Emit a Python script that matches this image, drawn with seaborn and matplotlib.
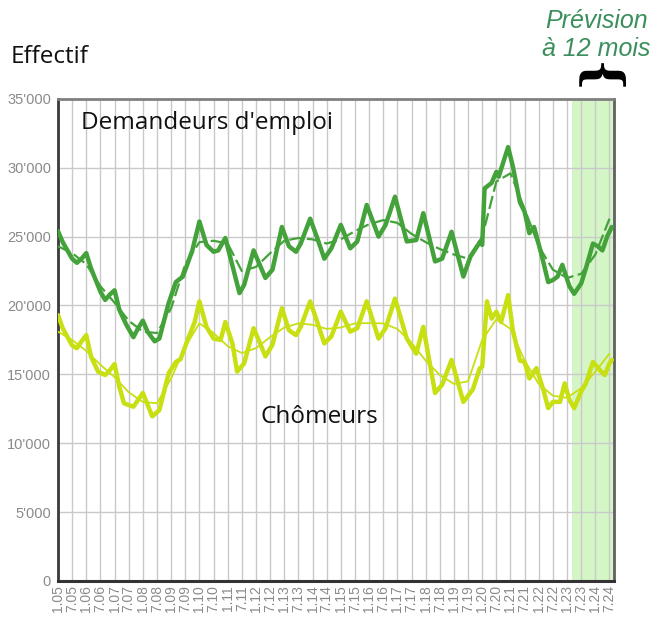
import pandas as pd
import numpy as np
import matplotlib
matplotlib.use("Agg")
import matplotlib.pyplot as plt
import seaborn as sns
from matplotlib.ticker import FuncFormatter

# mois depuis janvier 2005 / effectifs
DE_MOIS = [0, 2, 6, 8, 10, 12, 14, 18, 20, 22, 24, 26, 29, 32, 34, 36, 38, 41, 43, 47,
           50, 53, 57, 60, 63, 66, 68, 71, 74, 77, 79, 83, 86, 88, 91, 95, 98, 101, 103, 107,
           110, 113, 116, 120, 124, 127, 131, 136, 139, 143, 148, 152, 155, 160, 163, 167, 172, 175, 179, 180,
           181, 184, 186, 187, 191, 193, 196, 198, 200, 202, 205, 208, 210, 212, 214, 217, 219, 222, 224, 227,
           229, 231, 233, 235]
DE_VAL = [25400, 24600, 23400, 23100, 23400, 23800, 22700, 21000, 20400, 20800, 21100, 19700, 18600, 17700, 18350, 18900, 18100, 17400, 17600, 20200,
          21700, 22100, 24000, 26100, 24400, 23900, 24000, 24900, 22900, 20900, 21500, 24000, 22800, 22000, 22600, 25700, 24300, 23900, 24500, 26300,
          24900, 23400, 24150, 25850, 24150, 24650, 27300, 25000, 25850, 27900, 24650, 24750, 26700, 23200, 23400, 25350, 22100, 23550, 24600, 24400,
          28500, 28900, 29700, 29350, 31500, 30100, 27500, 26800, 25250, 25700, 23800, 21700, 21850, 22100, 22950, 21400, 20850, 21600, 22700, 24500,
          24300, 24000, 25000, 25700]

CH_MOIS = [0, 2, 6, 8, 10, 12, 14, 17, 20, 22, 24, 26, 28, 32, 34, 36, 38, 40, 43, 47,
           50, 52, 55, 58, 60, 63, 66, 69, 71, 74, 76, 79, 83, 86, 88, 91, 95, 98, 101, 103,
           107, 110, 113, 116, 120, 124, 127, 131, 136, 139, 143, 148, 152, 155, 160, 163, 167, 172, 176, 179,
           180, 182, 184, 186, 188, 191, 193, 196, 198, 200, 203, 206, 208, 210, 213, 215, 217, 219, 222, 224,
           227, 230, 232, 234, 235]
CH_VAL = [19300, 18350, 17100, 16900, 17400, 17850, 16300, 15200, 14950, 15300, 15750, 14100, 12900, 12650, 13150, 13650, 12800, 11950, 12400, 15100,
          15900, 16100, 17500, 18800, 20300, 18450, 17600, 17500, 18800, 17250, 15200, 15800, 18350, 17150, 16300, 17150, 19800, 18200, 17850, 18450,
          20300, 18800, 17250, 17750, 19550, 18100, 18350, 20300, 17600, 18350, 20500, 17600, 16500, 18450, 13650, 14250, 16050, 13000, 13900, 15450,
          15550, 20300, 19050, 19550, 18800, 20750, 18200, 16000, 15900, 14700, 15450, 13850, 12550, 13000, 13000, 14350, 13150, 12550, 13750, 14350,
          15900, 15300, 14950, 15800, 16050]

# tendances, une valeur par semestre
TEND_MOIS = list(range(0, 235, 6))
DE_TEND = [24300, 23800, 23000, 21400, 20200, 18900, 18100, 18000, 19800, 23000,
           24600, 24700, 24500, 22500, 22800, 23800, 24700, 24900, 24800, 24500,
           24800, 25400, 25900, 26200, 26000, 25200, 24600, 24100, 23700, 23400,
           25000, 29000, 29600, 27000, 24300, 22600, 22000, 22300, 23700, 26300]
CH_TEND = [18100, 17500, 16700, 15700, 14800, 13700, 13000, 12900, 14700, 17000,
           18700, 18000, 17050, 16550, 16900, 17700, 18400, 18700, 18600, 18300,
           18400, 18700, 18720, 18700, 18300, 17300, 16000, 14950, 14300, 14500,
           17500, 19000, 18300, 16000, 14300, 13450, 13300, 14000, 15200, 16500]

X_LABELS = ["1.05", "7.05", "1.06", "7.06", "1.07", "7.07", "1.08", "7.08", "1.09", "7.09",
            "1.10", "7.10", "1.11", "7.11", "1.12", "7.12", "1.13", "7.13", "1.14", "7.14",
            "1.15", "7.15", "1.16", "7.16", "1.17", "7.17", "1.18", "7.18", "1.19", "7.19",
            "1.20", "7.20", "1.21", "7.21", "1.22", "7.22", "1.23", "7.23", "1.24", "7.24"]
PREVISION = (218, 236)

VERT = "#44a23a"
JAUNE = "#c8df12"

sns.set_style("white")
plt.rcParams['font.family'] = ['Open Sans', 'DejaVu Sans']

df_de = pd.DataFrame({'mois': DE_MOIS, 'val': DE_VAL})
df_ch = pd.DataFrame({'mois': CH_MOIS, 'val': CH_VAL})
df_t = pd.DataFrame({'mois': TEND_MOIS, 'de': DE_TEND, 'ch': CH_TEND})

fig = plt.figure(figsize=(6.59, 6.22), dpi=100)
ax = fig.add_axes([0.088, 0.066, 0.844, 0.775])

ax.axvspan(PREVISION[0], PREVISION[1], color="#d4f5c6", zorder=0, lw=0)

sns.lineplot(data=df_de, x='mois', y='val', ax=ax, color=VERT, lw=3.2,
             solid_joinstyle='round', solid_capstyle='round', zorder=3)
sns.lineplot(data=df_t, x='mois', y='de', ax=ax, color=VERT, lw=1.6,
             dashes=(6, 2), zorder=4)
sns.lineplot(data=df_ch, x='mois', y='val', ax=ax, color=JAUNE, lw=3.2,
             solid_joinstyle='round', solid_capstyle='round', zorder=3)
sns.lineplot(data=df_t, x='mois', y='ch', ax=ax, color=JAUNE, lw=1.3, zorder=4)

ax.set_xlim(0, 236)
ax.set_ylim(0, 35000)
ax.set_xticks(TEND_MOIS)
ax.set_xticklabels(X_LABELS, rotation=90, fontsize=10, color="#8a8a8a",
                   family='Liberation Sans')
ax.set_yticks(np.arange(0, 35001, 5000))
ax.yaxis.set_major_formatter(FuncFormatter(lambda v, p: f"{int(v):,}".replace(",", "'")))
for t in ax.get_yticklabels():
    t.set_family('Liberation Sans')
ax.tick_params(axis='y', labelsize=10.5, labelcolor="#8a8a8a", length=4, color="#8a8a8a", pad=1)
ax.tick_params(axis='x', length=0, pad=3)
ax.grid(True, color="#c9c9c9", lw=1)
ax.set_axisbelow(True)
ax.set_xlabel("")
ax.set_ylabel("")

ax.spines['left'].set_color("#3a3a3a")
ax.spines['left'].set_linewidth(2)
ax.spines['bottom'].set_color("#333333")
ax.spines['bottom'].set_linewidth(2.2)
ax.spines['top'].set_color("#808080")
ax.spines['top'].set_linewidth(2)
ax.spines['right'].set_color("#606060")
ax.spines['right'].set_linewidth(2)

ax.text(0.042, 0.975, "Demandeurs d'emploi", transform=ax.transAxes, fontsize=17.5,
        ha='left', va='top', color="#111111")
ax.text(0.47, 0.34, "Chômeurs", transform=ax.transAxes, fontsize=17.5,
        ha='center', va='center', color="#111111")

fig.text(0.016, 0.908, "Effectif", fontsize=17.5, ha='left', va='center', color="#111111")
fig.text(0.905, 0.967, "Prévision", fontsize=18, ha='center', va='center',
         color="#3a8f5c", style='italic', family='Liberation Sans')
fig.text(0.905, 0.922, "à 12 mois", fontsize=18, ha='center', va='center',
         color="#3a8f5c", style='italic', family='Liberation Sans')
fig.text(0.906, 0.874, "{", fontsize=36, rotation=-90, ha='center', va='center',
         color="black", family='DejaVu Serif', weight='bold')

fig.savefig("out.png", dpi=100)
